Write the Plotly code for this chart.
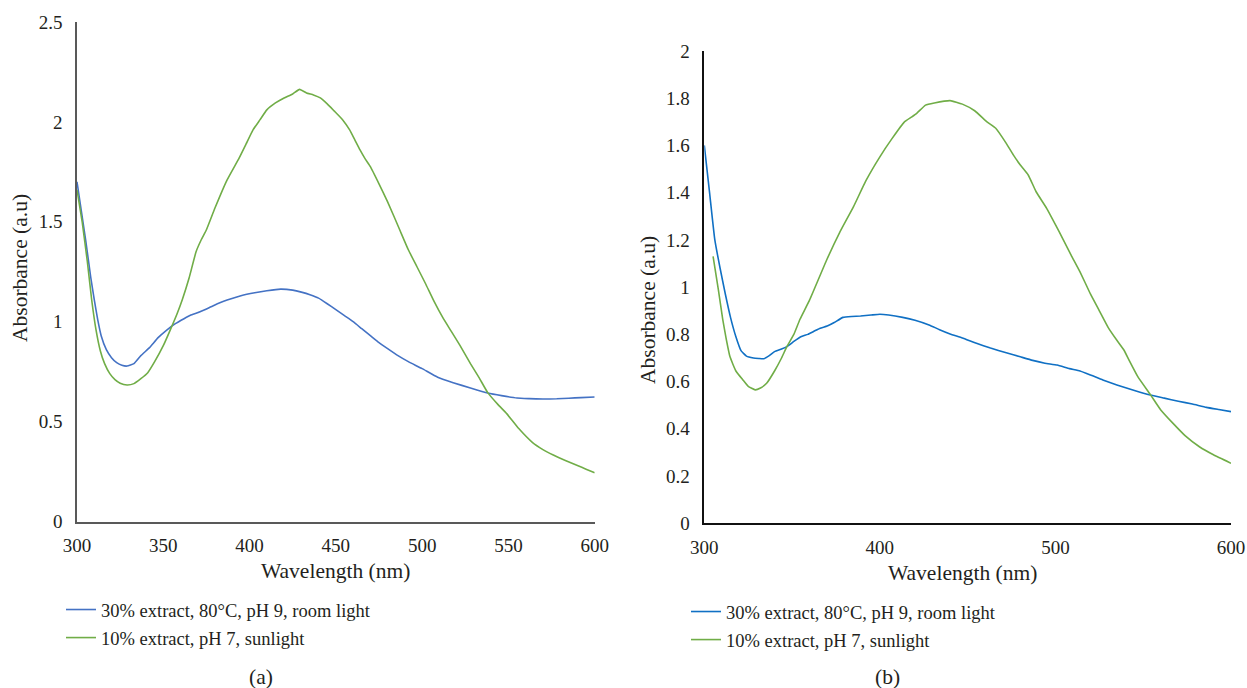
import plotly.graph_objects as go

# ---------- data: panel (a) ----------
a_blue_wl = [300, 305, 308, 310, 312, 314, 317, 320, 323, 326, 329, 333, 337, 342, 347, 352, 357, 362,
             366, 369, 374, 379, 387, 395, 403, 410, 418, 425, 430, 435, 440, 445, 450, 455, 460, 465,
             470, 475, 480, 486, 492, 500, 509, 518, 528, 538, 546, 555, 562, 570, 578, 585, 592, 600]
a_blue_abs = [1.70, 1.41, 1.22, 1.11, 1.01, 0.93, 0.86, 0.82, 0.795, 0.782, 0.778, 0.79, 0.83, 0.87,
              0.92, 0.958, 0.99, 1.015, 1.033, 1.042, 1.06, 1.08, 1.108, 1.13, 1.145, 1.155, 1.163,
              1.158, 1.148, 1.135, 1.118, 1.09, 1.06, 1.03, 1.0, 0.965, 0.93, 0.895, 0.865, 0.83, 0.80,
              0.765, 0.722, 0.695, 0.668, 0.643, 0.63, 0.618, 0.615, 0.613, 0.614, 0.617, 0.62, 0.623]

a_green_wl = [300, 303, 306, 308.5, 311, 313.5, 316, 319, 322, 325, 329, 333, 337, 341, 345, 350, 354,
              358, 361, 365, 369, 372, 375, 380, 387, 394, 398, 402, 406, 410, 415, 420, 425, 429, 433,
              437, 441, 445, 449, 454, 458, 461, 464, 467, 470, 475, 480, 487, 492, 497, 502, 507, 512,
              517, 522, 528, 533, 538, 544, 549, 556, 564, 570, 576, 583, 590, 595, 600]
a_green_abs = [1.66, 1.50, 1.30, 1.11, 0.96, 0.855, 0.79, 0.74, 0.71, 0.692, 0.683, 0.69, 0.715, 0.745,
               0.80, 0.88, 0.958, 1.04, 1.11, 1.22, 1.35, 1.41, 1.46, 1.57, 1.71, 1.82, 1.89, 1.96, 2.01,
               2.06, 2.095, 2.12, 2.14, 2.163, 2.145, 2.135, 2.12, 2.09, 2.055, 2.01, 1.96, 1.91, 1.86,
               1.815, 1.776, 1.69, 1.60, 1.46, 1.36, 1.275, 1.19, 1.10, 1.02, 0.95, 0.88, 0.79, 0.72,
               0.645, 0.585, 0.54, 0.465, 0.395, 0.36, 0.333, 0.305, 0.28, 0.262, 0.244]

# ---------- data: panel (b) ----------
b_blue_wl = [300, 303, 306, 309, 312, 315, 318, 321, 324, 328, 331, 334, 337, 340, 344, 347, 351, 355,
             359, 363, 366, 370, 374, 379, 384, 389, 395, 400, 405, 413, 420, 428, 434, 440, 447, 455,
             463, 472, 480, 487, 494, 501, 508, 514, 520, 527, 535, 545, 554, 562, 570, 578, 586, 593, 600]
b_blue_abs = [1.60, 1.40, 1.20, 1.08, 0.97, 0.87, 0.79, 0.73, 0.708, 0.70, 0.698, 0.697, 0.71, 0.727,
              0.738, 0.748, 0.77, 0.79, 0.80, 0.815, 0.826, 0.835, 0.85, 0.872, 0.876, 0.878, 0.882,
              0.885, 0.882, 0.872, 0.86, 0.84, 0.82, 0.802, 0.785, 0.762, 0.742, 0.722, 0.705, 0.69,
              0.678, 0.67, 0.655, 0.645, 0.628, 0.607, 0.586, 0.562, 0.543, 0.53, 0.517, 0.505, 0.491,
              0.482, 0.473]

b_green_wl = [305, 308, 310.5, 312.5, 314.6, 318, 322, 325, 329, 332, 335.5, 340, 344, 347, 351, 354.5,
              360, 369.7, 377, 385, 392, 400, 407, 414, 418, 421, 426, 431, 440, 447, 454, 461, 466, 472,
              476, 480, 484.5, 489, 495, 500, 504.5, 509, 514, 520, 525, 530, 535, 539, 542, 547, 554,
              560, 567, 574, 582, 590, 600]
b_green_abs = [1.13, 0.99, 0.864, 0.78, 0.706, 0.645, 0.607, 0.58, 0.565, 0.573, 0.593, 0.645, 0.70,
               0.748, 0.80, 0.864, 0.946, 1.115, 1.23, 1.341, 1.45, 1.552, 1.63, 1.70, 1.72, 1.736,
               1.771, 1.78, 1.79, 1.775, 1.747, 1.70, 1.673, 1.609, 1.56, 1.517, 1.475, 1.404, 1.334,
               1.265, 1.20, 1.135, 1.065, 0.97, 0.90, 0.83, 0.775, 0.734, 0.69, 0.62, 0.546, 0.48,
               0.423, 0.37, 0.324, 0.29, 0.254]

series_names = ["30% extract, 80°C, pH 9, room light", "10% extract, pH 7, sunlight"]
a_xticks = [300, 350, 400, 450, 500, 550, 600]
b_xticks = [300, 400, 500, 600]
a_yticks = [0, 0.5, 1, 1.5, 2, 2.5]
b_yticks = [0, 0.2, 0.4, 0.6, 0.8, 1, 1.2, 1.4, 1.6, 1.8, 2]

W, H = 1247, 688
FONT = "Liberation Serif"
TXT = "#231f20"
BLUE_A, BLUE_B, GREEN = "#4472C4", "#1070C4", "#70AD47"


def px(x):
    return x / W


def py(y):
    return 1 - y / H


LINE = dict(width=1.6, shape="spline", smoothing=0.4)

fig = go.Figure()
fig.add_trace(go.Scatter(x=a_blue_wl, y=a_blue_abs, mode="lines", name=series_names[0],
                         line=dict(color=BLUE_A, **LINE),
                         xaxis="x", yaxis="y", legend="legend", legendgroup="a1"))
fig.add_trace(go.Scatter(x=a_green_wl, y=a_green_abs, mode="lines", name=series_names[1],
                         line=dict(color=GREEN, **LINE),
                         xaxis="x", yaxis="y", legend="legend", legendgroup="a2"))
fig.add_trace(go.Scatter(x=b_blue_wl, y=b_blue_abs, mode="lines", name=series_names[0],
                         line=dict(color=BLUE_B, **LINE),
                         xaxis="x2", yaxis="y2", legend="legend2", legendgroup="b1"))
fig.add_trace(go.Scatter(x=b_green_wl, y=b_green_abs, mode="lines", name=series_names[1],
                         line=dict(color=GREEN, **LINE),
                         xaxis="x2", yaxis="y2", legend="legend2", legendgroup="b2"))

tickfont = dict(family=FONT, size=19, color=TXT)
common_x = dict(range=[300, 600], showgrid=False, zeroline=False, showline=True, ticks="",
                tickfont=tickfont, fixedrange=True, ticklabelstandoff=6, automargin=False)
common_y = dict(showgrid=False, zeroline=False, showline=True, ticks="",
                tickfont=tickfont, fixedrange=True, ticklabelstandoff=9, automargin=False)

legend_common = dict(font=dict(family=FONT, size=18.5, color=TXT), bgcolor="rgba(0,0,0,0)",
                     xanchor="left", yanchor="top", tracegroupgap=1, traceorder="grouped",
                     itemwidth=30)

fig.update_layout(
    template="none",
    width=W, height=H,
    margin=dict(l=0, r=0, t=0, b=0, autoexpand=False),
    paper_bgcolor="white", plot_bgcolor="white",
    font=dict(family=FONT, color=TXT),
    xaxis=dict(domain=[px(77), px(594.7)], anchor="y", tickvals=a_xticks,
               linecolor="#595959", linewidth=1.6, **common_x),
    yaxis=dict(domain=[py(521.5), py(22)], anchor="x", range=[0, 2.5], tickvals=a_yticks,
               linecolor="#595959", linewidth=1.6, **common_y),
    xaxis2=dict(domain=[px(704.3), px(1231)], anchor="y2", tickvals=b_xticks,
                linecolor="#111111", linewidth=1.6, **common_x),
    yaxis2=dict(domain=[py(523.3), py(51)], anchor="x2", range=[0, 2], tickvals=b_yticks,
                linecolor="#111111", linewidth=1.6, **common_y),
    legend=dict(x=px(61), y=py(591), **legend_common),
    legend2=dict(x=px(686), y=py(593), **legend_common),
    showlegend=True,
)

ann_font = dict(family=FONT, size=21.5, color=TXT)
annotations = [
    dict(text="Wavelength (nm)", x=px(335), y=py(571), xref="paper", yref="paper",
         showarrow=False, font=ann_font, xanchor="center", yanchor="middle"),
    dict(text="Wavelength (nm)", x=px(963), y=py(573), xref="paper", yref="paper",
         showarrow=False, font=ann_font, xanchor="center", yanchor="middle"),
    dict(text="Absorbance (a.u)", x=px(20), y=py(268), xref="paper", yref="paper",
         showarrow=False, font=ann_font, textangle=-90, xanchor="center", yanchor="middle"),
    dict(text="Absorbance (a.u)", x=px(648), y=py(310), xref="paper", yref="paper",
         showarrow=False, font=ann_font, textangle=-90, xanchor="center", yanchor="middle"),
    dict(text="(a)", x=px(261), y=py(677), xref="paper", yref="paper",
         showarrow=False, font=ann_font, xanchor="center", yanchor="middle"),
    dict(text="(b)", x=px(887), y=py(677), xref="paper", yref="paper",
         showarrow=False, font=ann_font, xanchor="center", yanchor="middle"),
]
fig.update_layout(annotations=annotations)

fig.write_html("out.html")
